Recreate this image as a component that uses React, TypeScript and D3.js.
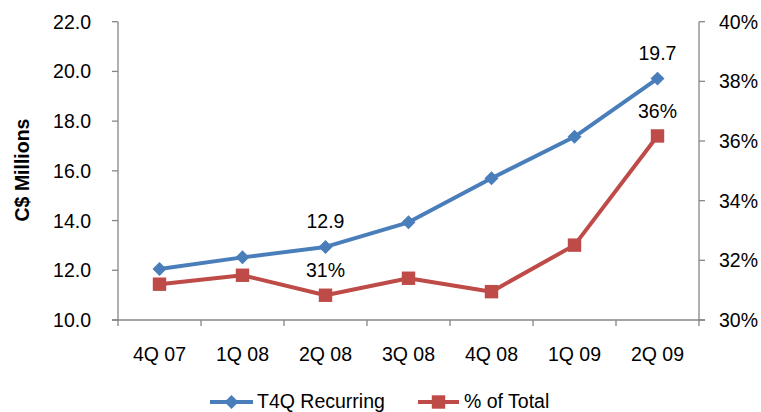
import React from "react";
import * as d3 from "d3";

// Quarter labels along the bottom axis
const quarters = ["4Q 07", "1Q 08", "2Q 08", "3Q 08", "4Q 08", "1Q 09", "2Q 09"];
// Trailing-four-quarter recurring revenue, C$ millions
const recurring = [12.05, 12.52, 12.94, 13.93, 15.7, 17.37, 19.71];
// Recurring share of total revenue
const pctOfTotal = [0.312, 0.315, 0.3083, 0.314, 0.3095, 0.3251, 0.3617];
// Axis ticks
const leftTicks = [10, 12, 14, 16, 18, 20, 22];
const rightTicks = [0.3, 0.32, 0.34, 0.36, 0.38, 0.4];
// Points that carry a value label
const labelledIdx = [2, 6];

const W = 761;
const H = 412;
const FONT = "'Liberation Sans', Arial, sans-serif";
const FS = 19.5;
const BLUE = "#4A7EBB";
const RED = "#BE4B48";
const AXIS = "#868686";

export default function App() {
  const left = 118;
  const right = 699;
  const top = 21.7;
  const bottom = 320;

  const x = d3.scaleBand<string>().domain(quarters).range([left, right]);
  const cx = (q: string) => (x(q) as number) + x.bandwidth() / 2;
  const yL = d3.scaleLinear().domain([10, 22]).range([bottom, top]);
  const yR = d3.scaleLinear().domain([0.3, 0.4]).range([bottom, top]);

  const fmtL = d3.format(".1f");
  const fmtR = d3.format(".0%");

  const blueLine = d3
    .line<number>()
    .x((_, i) => cx(quarters[i]))
    .y((d) => yL(d));
  const redLine = d3
    .line<number>()
    .x((_, i) => cx(quarters[i]))
    .y((d) => yR(d));

  const diamond = d3.symbol(d3.symbolSquare, 98)() as string;
  const square = d3.symbol(d3.symbolSquare, 180)() as string;

  const xTickPositions = [...quarters.map((q) => x(q) as number), right];

  return (
    <svg
      width={W}
      height={H}
      style={{ position: "absolute", left: 0, top: 0, background: "#fff" }}
      fontFamily={FONT}
    >
      {/* left axis */}
      <line x1={left} x2={left} y1={top} y2={bottom} stroke={AXIS} strokeWidth={1.3} />
      {leftTicks.map((t) => (
        <g key={"l" + t}>
          <line x1={left - 6} x2={left} y1={yL(t)} y2={yL(t)} stroke={AXIS} strokeWidth={1.3} />
          <text x={91} y={yL(t)} dy="0.36em" textAnchor="end" fontSize={FS} fill="#000">
            {fmtL(t)}
          </text>
        </g>
      ))}
      {/* right axis */}
      <line x1={right} x2={right} y1={top} y2={bottom} stroke={AXIS} strokeWidth={1.3} />
      {rightTicks.map((t) => (
        <g key={"r" + t}>
          <line x1={right} x2={right + 6} y1={yR(t)} y2={yR(t)} stroke={AXIS} strokeWidth={1.3} />
          <text x={719} y={yR(t)} dy="0.36em" textAnchor="start" fontSize={FS} fill="#000">
            {fmtR(t)}
          </text>
        </g>
      ))}
      {/* bottom axis */}
      <line x1={left - 6} x2={right + 6} y1={bottom} y2={bottom} stroke={AXIS} strokeWidth={1.3} />
      {xTickPositions.map((p, i) => (
        <line key={"xt" + i} x1={p} x2={p} y1={bottom} y2={bottom + 6} stroke={AXIS} strokeWidth={1.3} />
      ))}
      {quarters.map((q) => (
        <text key={q} x={cx(q)} y={354} dy="0.36em" textAnchor="middle" fontSize={FS} fill="#000">
          {q}
        </text>
      ))}
      {/* axis title */}
      <text
        transform={`translate(29,170) rotate(-90)`}
        textAnchor="middle"
        fontSize={FS}
        fontWeight="bold"
        fill="#000"
      >
        C$ Millions
      </text>

      {/* series */}
      <path d={redLine(pctOfTotal) as string} fill="none" stroke={RED} strokeWidth={4} strokeLinejoin="round" />
      <path d={blueLine(recurring) as string} fill="none" stroke={BLUE} strokeWidth={4} strokeLinejoin="round" />
      {pctOfTotal.map((v, i) => (
        <path key={"rs" + i} d={square} transform={`translate(${cx(quarters[i])},${yR(v)})`} fill={RED} />
      ))}
      {recurring.map((v, i) => (
        <path
          key={"bd" + i}
          d={diamond}
          transform={`translate(${cx(quarters[i])},${yL(v)}) rotate(45)`}
          fill={BLUE}
        />
      ))}

      {/* value labels */}
      {labelledIdx.map((i) => (
        <g key={"lab" + i}>
          <text x={cx(quarters[i])} y={yL(recurring[i]) - 26} dy="0.36em" textAnchor="middle" fontSize={FS} fill="#000">
            {fmtL(recurring[i])}
          </text>
          <text x={cx(quarters[i])} y={yR(pctOfTotal[i]) - 25} dy="0.36em" textAnchor="middle" fontSize={FS} fill="#000">
            {fmtR(pctOfTotal[i])}
          </text>
        </g>
      ))}

      {/* legend */}
      <g>
        <line x1={210} x2={253} y1={402} y2={402} stroke={BLUE} strokeWidth={4} />
        <path d={diamond} transform="translate(231.5,402) rotate(45)" fill={BLUE} />
        <text x={257} y={408} fontSize={FS} fill="#000">T4Q Recurring</text>
        <line x1={418} x2={459} y1={402} y2={402} stroke={RED} strokeWidth={4} />
        <path d={square} transform="translate(438.5,402)" fill={RED} />
        <text x={464} y={408} fontSize={FS} fill="#000">% of Total</text>
      </g>
    </svg>
  );
}
